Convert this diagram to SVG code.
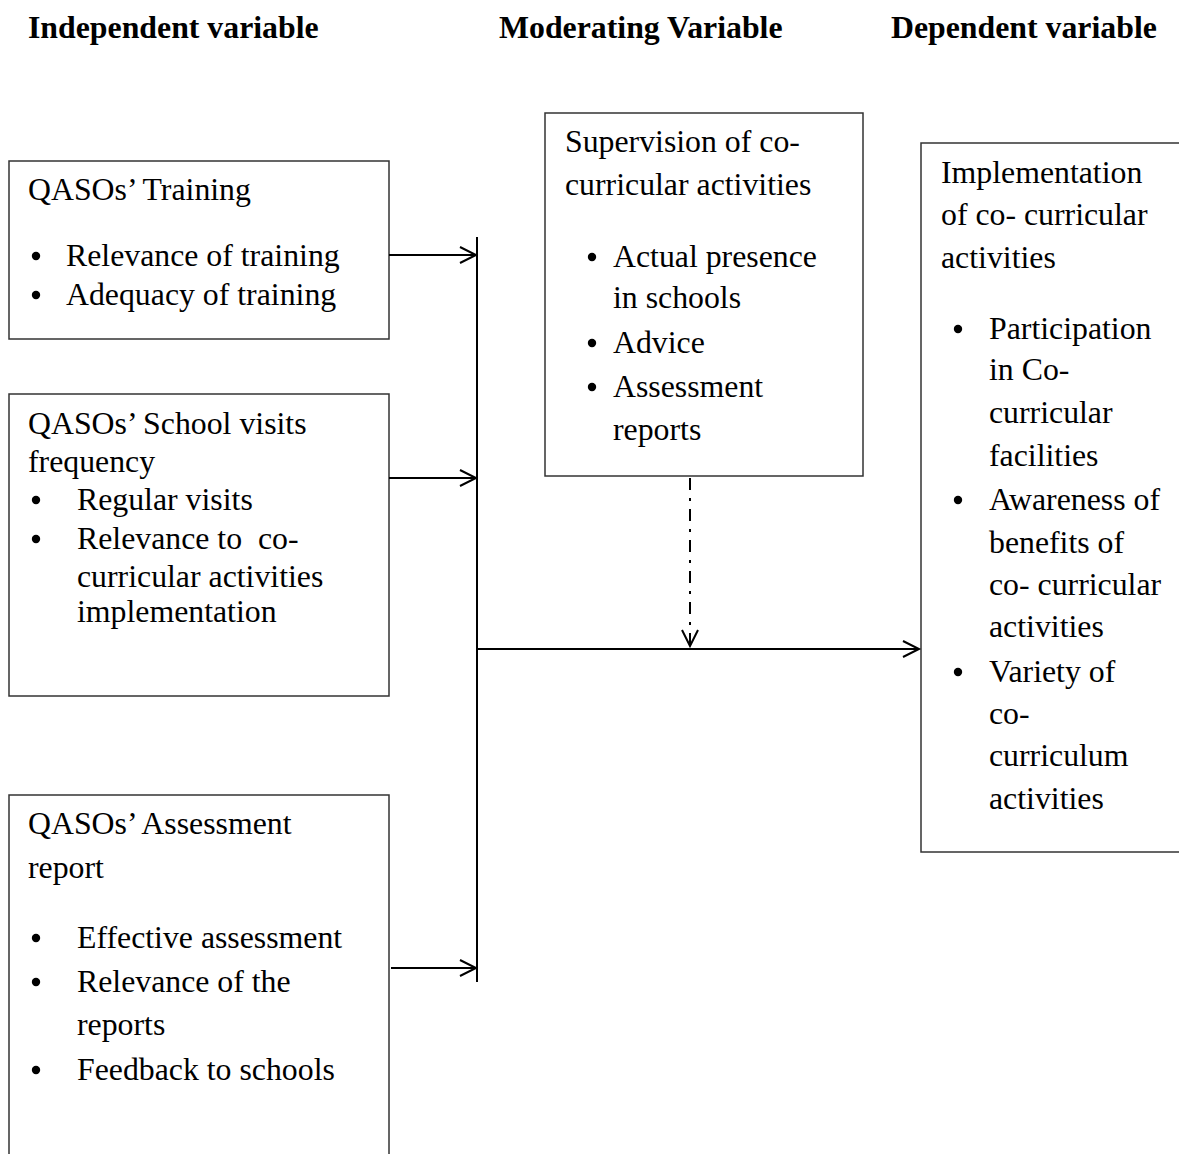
<svg xmlns="http://www.w3.org/2000/svg" width="1179" height="1154" viewBox="0 0 1179 1154">
<defs>
<style>
text{font-family:"Liberation Serif","Times New Roman",serif;font-size:31.8px;fill:#000}
.h{font-weight:bold}
.box{fill:#fff;stroke:#333;stroke-width:1.5}
.ln{stroke:#000;stroke-width:2;fill:none}
.dd{stroke:#000;stroke-width:2;fill:none;stroke-dasharray:12,8,3,8}
</style>
<marker id="ah" markerWidth="24" markerHeight="20" refX="20" refY="10" orient="auto" markerUnits="userSpaceOnUse">
<path d="M4,2 L20,10 L4,18" fill="none" stroke="#000" stroke-width="2"/>
</marker>
<symbol id="dot" overflow="visible"><circle cx="0" cy="0" r="4.2" fill="#000"/></symbol>
</defs>
<rect width="1179" height="1154" fill="#fff"/>
<g id="headers">
<text class="h" x="28" y="38">Independent variable</text>
<text class="h" x="499" y="38">Moderating Variable</text>
<text class="h" x="891" y="38">Dependent variable</text>
</g>
<g id="training">
<rect class="box" x="9" y="161" width="380" height="178"/>
<text x="28" y="200">QASOs’ Training</text>
<use href="#dot" x="36" y="256"/><text x="66" y="266">Relevance of training</text>
<use href="#dot" x="36" y="295"/><text x="66" y="305">Adequacy of training</text>
</g>
<g id="visits">
<rect class="box" x="9" y="394" width="380" height="302"/>
<text x="28" y="434">QASOs’ School visits</text>
<text x="28" y="472">frequency</text>
<use href="#dot" x="36" y="500"/><text x="77" y="510">Regular visits</text>
<use href="#dot" x="36" y="539"/><text x="77" y="549" xml:space="preserve">Relevance to  co-</text>
<text x="77" y="587">curricular activities</text>
<text x="77" y="622">implementation</text>
</g>
<g id="assessment">
<rect class="box" x="9" y="795" width="380" height="380"/>
<text x="28" y="834">QASOs’ Assessment</text>
<text x="28" y="878">report</text>
<use href="#dot" x="36" y="938"/><text x="77" y="948">Effective assessment</text>
<use href="#dot" x="36" y="982"/><text x="77" y="992">Relevance of the</text>
<text x="77" y="1035">reports</text>
<use href="#dot" x="36" y="1070"/><text x="77" y="1080">Feedback to schools</text>
</g>
<g id="supervision">
<rect class="box" x="545" y="113" width="318" height="363"/>
<text x="565" y="152">Supervision of co-</text>
<text x="565" y="195">curricular activities</text>
<use href="#dot" x="592" y="257"/><text x="613" y="267">Actual presence</text>
<text x="613" y="308">in schools</text>
<use href="#dot" x="592" y="343"/><text x="613" y="353">Advice</text>
<use href="#dot" x="592" y="387"/><text x="613" y="397">Assessment</text>
<text x="613" y="440">reports</text>
</g>
<g id="implementation">
<rect class="box" x="921" y="143" width="280" height="709"/>
<text x="941" y="183">Implementation</text>
<text x="941" y="225">of co- curricular</text>
<text x="941" y="268">activities</text>
<use href="#dot" x="958" y="329"/><text x="989" y="339">Participation</text>
<text x="989" y="380">in Co-</text>
<text x="989" y="423">curricular</text>
<text x="989" y="466">facilities</text>
<use href="#dot" x="958" y="500"/><text x="989" y="510">Awareness of</text>
<text x="989" y="553">benefits of</text>
<text x="989" y="595">co- curricular</text>
<text x="989" y="637">activities</text>
<use href="#dot" x="958" y="672"/><text x="989" y="682">Variety of</text>
<text x="989" y="724">co-</text>
<text x="989" y="766">curriculum</text>
<text x="989" y="809">activities</text>
</g>
<g id="connectors">
<line class="ln" x1="477" y1="237" x2="477" y2="982"/>
<line class="ln" x1="389" y1="255" x2="476" y2="255" marker-end="url(#ah)"/>
<line class="ln" x1="389" y1="478" x2="476" y2="478" marker-end="url(#ah)"/>
<line class="ln" x1="391" y1="968" x2="476" y2="968" marker-end="url(#ah)"/>
<line class="ln" x1="477" y1="649" x2="919" y2="649" marker-end="url(#ah)"/>
<line class="dd" x1="690" y1="478" x2="690" y2="646" marker-end="url(#ah)"/>
</g>
</svg>
